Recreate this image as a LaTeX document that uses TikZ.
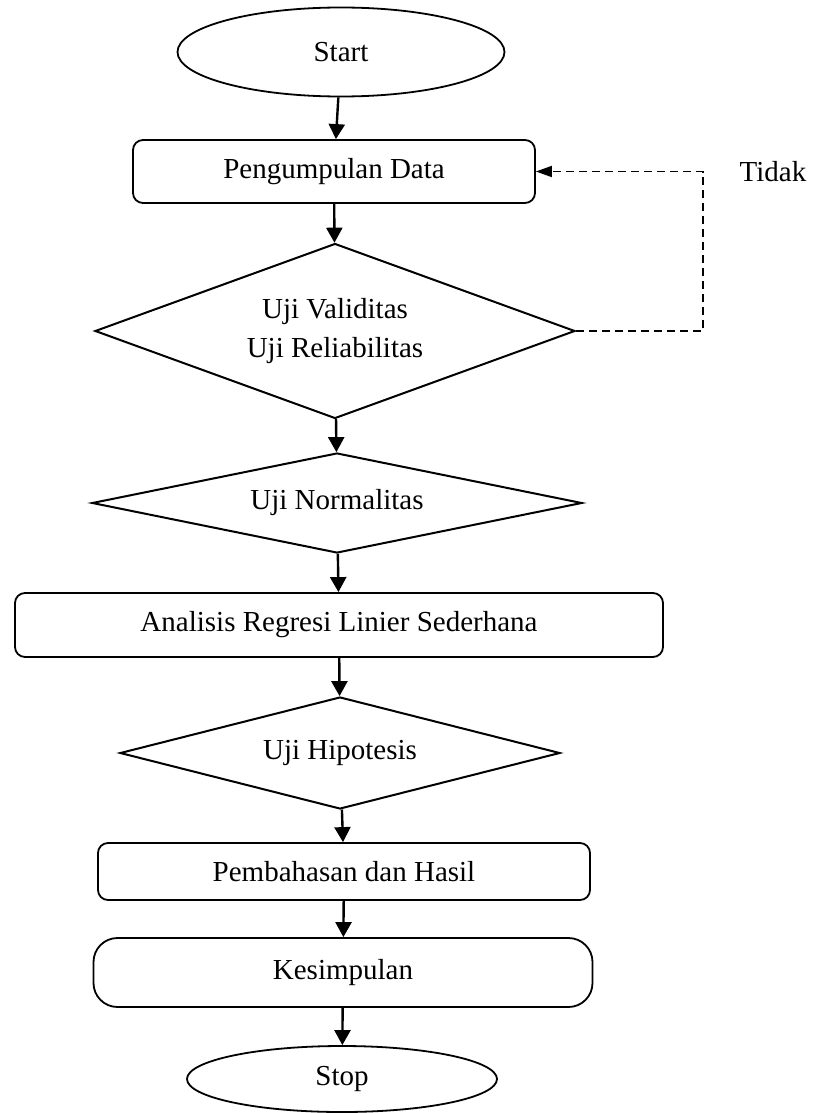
\documentclass[tikz,border=0pt]{standalone}
\usepackage{fontspec}
\setmainfont{Liberation Serif}
\usetikzlibrary{shapes.geometric,arrows.meta,positioning}

\begin{document}
\begin{tikzpicture}[
    x=0.5pt, y=-0.5pt,
    font=\fontsize{14.5}{19.5}\selectfont,
    termBox/.style={
        ellipse, draw, line width=0.9pt, inner sep=0pt, align=center
    },
    procBox/.style={
        rectangle, rounded corners=5pt, draw, line width=0.9pt,
        inner sep=0pt, align=center
    },
    decBox/.style={
        diamond, draw, line width=1pt, inner sep=0pt, aspect=2.7, align=center
    },
    arrow/.style={-{Triangle[width=8pt,length=7.5pt]}, line width=1.2pt},
    dashArrow/.style={-{Triangle[width=5.5pt,length=8pt]}, line width=0.9pt,
        dash pattern=on 4pt off 2.5pt},
    noteText/.style={inner sep=0pt}
]

    \useasboundingbox (0,0) rectangle (814,1113);

    \node[termBox, minimum width=163.5pt, minimum height=44.5pt] (start) at (341,52) {Start};

    \node[procBox, minimum width=201pt, minimum height=31.5pt] (collect) at (334,171.5) {Pengumpulan Data};

    \node[decBox, minimum width=240pt, minimum height=87.5pt] (valid) at (335,331) {Uji Validitas\\Uji Reliabilitas};

    \node[decBox, minimum width=245pt, minimum height=50pt] (normal) at (337,503) {Uji Normalitas};

    \node[procBox, minimum width=324pt, minimum height=32pt] (regress) at (339,625) {Analisis Regresi Linier Sederhana};

    \node[decBox, minimum width=220pt, minimum height=56pt] (hypo) at (340,753) {Uji Hipotesis};

    \node[procBox, minimum width=246pt, minimum height=28.5pt] (discuss) at (344,871.5) {Pembahasan dan Hasil};

    \node[procBox, rounded corners=12pt, minimum width=249.5pt, minimum height=34.5pt] (concl) at (343,972.5) {Kesimpulan};

    \node[termBox, minimum width=155pt, minimum height=33pt] (stop) at (342,1079) {Stop};

    \node[noteText] (tidak) at (773,172) {Tidak};
    \coordinate (loop) at (703,331);

    \draw[arrow] (start) -- (collect);
    \draw[arrow] (collect) -- (valid);
    \draw[arrow] (valid) -- (normal);
    \draw[arrow] (normal) -- (regress);
    \draw[arrow] (regress) -- (hypo);
    \draw[arrow] (hypo) -- (discuss);
    \draw[arrow] (discuss) -- (concl);
    \draw[arrow] (concl) -- (stop);

    \draw[dashArrow] (valid.east) -- (loop) |- (collect.east);

\end{tikzpicture}
\end{document}
